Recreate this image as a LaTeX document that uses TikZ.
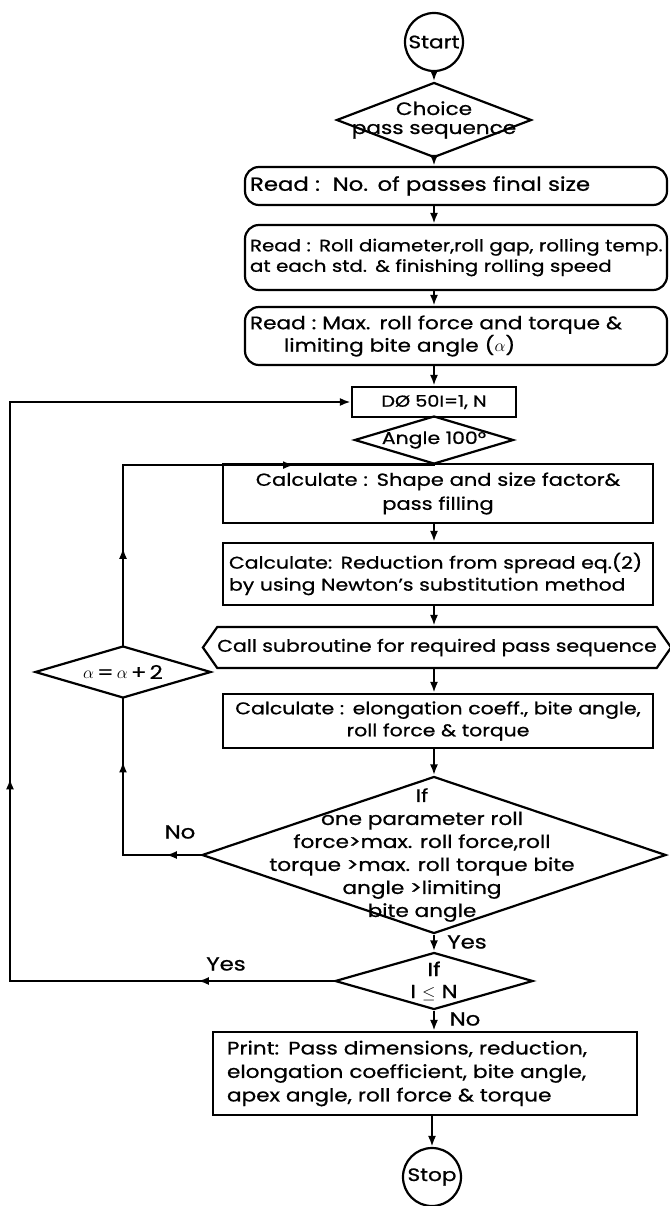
\documentclass[tikz,border=0pt]{standalone}
\usepackage{fontspec}
\setmainfont{Poppins}[FakeStretch=1.2, FakeBold=0.8]
\usetikzlibrary{arrows.meta,shapes.geometric,shapes.symbols,decorations.markings}

\begin{document}
\begin{tikzpicture}[x=1pt, y=-1pt, line width=2.2pt,
	every node/.style={font=\fontsize{19}{21}\selectfont},
	>={Latex[length=11pt,width=8pt]},
	term/.style={draw, circle, minimum size=58pt, inner sep=0pt, font=\fontsize{18}{20}\selectfont},
	readbox/.style={draw, rounded corners=14pt, inner xsep=5pt, inner ysep=0pt, align=left},
	procbox/.style={draw, inner xsep=6pt, inner ysep=0pt, align=center},
	decision/.style={draw, diamond, inner sep=0pt},
	subr/.style={draw, signal, signal to=east and west, signal pointer angle=110, inner sep=0pt},
	link/.style={line cap=rect},
	midarr/.style={postaction={decorate}, decoration={markings, mark=at position #1 with {\arrow{>}}}},
	tag/.style={inner sep=0pt, align=center}]
	\useasboundingbox (0,0) rectangle (669,1206);
	\node[term] (start) at (434,42) {Start};
	\node[decision, minimum width=195pt, minimum height=75pt,
		label={[tag, font=\fontsize{18}{19}\selectfont]center:{Choice\\pass sequence}}] (choice) at (434,120) {};
	\node[readbox, text width=412pt, minimum height=38pt] (read1) at (456,186) {Read :\ \ No. of passes final size};
	\node[readbox, text width=412pt, minimum height=65pt, font=\fontsize{16.5}{20.5}\selectfont] (read2) at (456,257.5) {\mbox{Read : Roll diameter,roll gap, rolling temp.}\\at each std. \& finishing rolling speed};
	\node[readbox, text width=412pt, minimum height=58pt, font=\fontsize{18}{20.5}\selectfont] (read3) at (456,336) {Read :\ Max. roll force and torque \&\\\hspace*{34pt}limiting bite angle ($\alpha$)};
	\node[procbox, minimum width=164pt, minimum height=30pt, font=\fontsize{16}{20}\selectfont] (doloop) at (434,402) {DØ 50I=1, N};
	\node[decision, minimum width=159pt, minimum height=48pt, label={[tag, font=\fontsize{17}{20}\selectfont]center:Angle 100°}] (angle) at (434,440) {};
	\node[procbox, text width=418pt, minimum height=59pt, font=\fontsize{17.5}{24}\selectfont] (calc1) at (438,493.5) {Calculate : Shape and size factor\&\\pass filling};
	\node[procbox, align=left, text width=418pt, minimum height=62pt, font=\fontsize{17}{22}\selectfont] (calc2) at (438,574) {Calculate: Reduction from spread eq.(2)\\by using Newton's substitution method};
	\node[subr, minimum width=458pt, minimum height=41pt, font=\fontsize{17}{20}\selectfont] (callsub) at (437,647.5) {Call subroutine for required pass sequence};
	\node[procbox, text width=418pt, minimum height=54pt, font=\fontsize{17}{22}\selectfont] (calc3) at (438,721) {Calculate : elongation coeff., bite angle,\\roll force \& torque};
	\node[decision, minimum width=464pt, minimum height=157pt,
		label={[tag, xshift=-12pt, font=\fontsize{18}{23}\selectfont]center:{If\\one parameter roll\\force>max. roll force,roll\\torque >max. roll torque bite\\angle >limiting\\bite angle}}] (bigdiam) at (434,855) {};
	\node[decision, minimum width=198pt, minimum height=57pt,
		label={[tag, font=\fontsize{19}{22}\selectfont]center:{If\\I $\leq$ N}}] (ifn) at (434,981) {};
	\node[procbox, align=left, text width=396pt, inner xsep=14pt, minimum height=83pt, font=\fontsize{18}{23.5}\selectfont] (print) at (425,1073.5) {Print: Pass dimensions, reduction,\\elongation coefficient, bite angle,\\apex angle, roll force \& torque};
	\node[term] (stop) at (432,1177) {Stop};
	\node[decision, minimum width=176pt, minimum height=52pt, label={[tag]center:{$\alpha$\,=\,$\alpha$\,+\,2}}] (alpha) at (123,672) {};
	\node[tag] (no1) at (180,832) {No};
	\node[tag] (yes1) at (467,942) {Yes};
	\node[tag] (yes2) at (226,964) {Yes};
	\node[tag] (no2) at (465,1019) {No};

	\draw[->] (start) -- (choice);
	\draw[->] (choice) -- (choice |- read1.north);
	\draw[->] (read1.south -| start) -- (read2.north -| start);
	\draw[->] (read2.south -| start) -- (read3.north -| start);
	\draw[->] (read3.south -| start) -- (doloop);
	\draw[->] (calc1.south -| start) -- (calc2.north -| start);
	\draw[->] (calc2.south -| start) -- (callsub.north -| start);
	\draw[->] (callsub.south -| start) -- (calc3.north -| start);
	\draw[->] (calc3.south -| start) -- (bigdiam);
	\draw[->] (bigdiam) -- (ifn);
	\draw[->] (ifn) -- (ifn |- print.north);
	\draw[->] (print.south -| stop) -- (stop);

	\coordinate (lb) at (10,981);
	\coordinate (lt) at (10,402);
	\draw[link, midarr=0.42] (ifn.west) -- (lb);
	\draw[link, midarr=0.35] (lb) -- (lt);
	\draw[->] (lt) -- (doloop.west);

	\coordinate (nb) at (bigdiam.west -| alpha);
	\coordinate (nt) at (alpha |- angle.south);
	\draw[link, midarr=0.45] (bigdiam.west) -- (nb);
	\draw[link, midarr=0.6] (nb) -- (alpha.south);
	\draw[link, midarr=0.54] (alpha.north) -- (nt);
	\draw[link, midarr=0.55] (nt) -- (angle.south);
\end{tikzpicture}
\end{document}
